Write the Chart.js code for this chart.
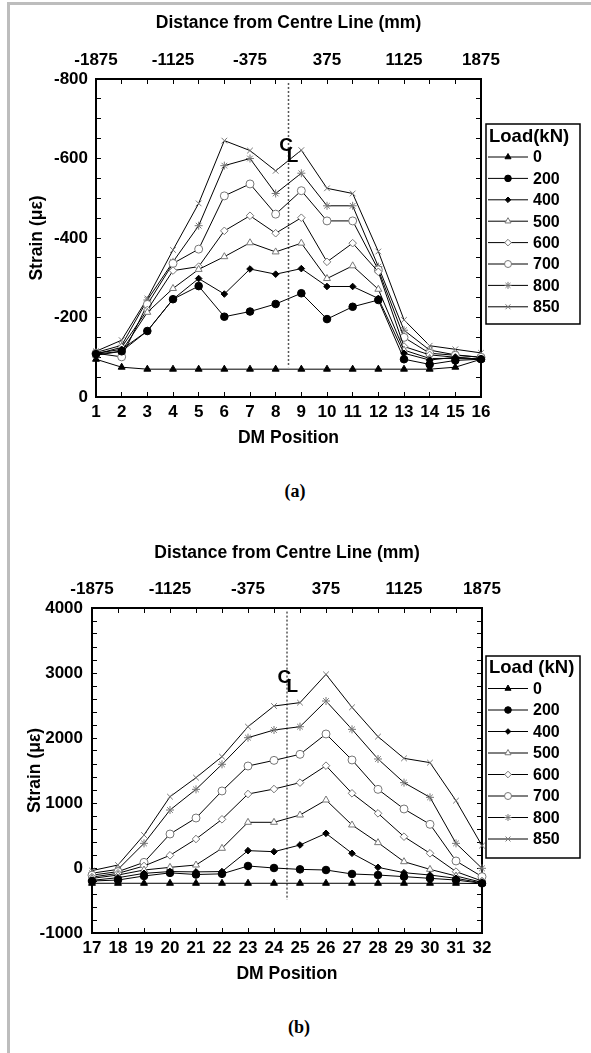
<!DOCTYPE html>
<html>
<head>
<meta charset="utf-8">
<script src="https://cdn.jsdelivr.net/npm/chart.js@4.4.1/dist/chart.umd.min.js"></script>
<style>
  html, body { margin: 0; padding: 0; background: #fff; }
  body { width: 591px; height: 1053px; position: relative; overflow: hidden; }
  #frame { position: absolute; left: 7px; top: 2px; width: 700px; height: 1200px;
           border-left: 3px solid #bdbdbd; border-top: 3px solid #bdbdbd; }
  canvas { position: absolute; left: 0; }
  #chartA { top: 0; }
  #chartB { top: 530px; }
  .caption { position: absolute; width: 60px; text-align: center;
             font: bold 18px "Liberation Serif", "Times New Roman", serif; }
</style>
</head>
<body>
<div id="frame"></div>
<canvas id="chartA" width="591" height="470"></canvas>
<canvas id="chartB" width="591" height="470"></canvas>
<div class="caption" style="left:265px;top:481px">(a)</div>
<div class="caption" style="left:269px;top:1017px">(b)</div>

<script>
const FONT = '"Liberation Sans", Arial, Helvetica, sans-serif';

// loads (kN), one series per load
const loadsKN = ['0', '200', '400', '500', '600', '700', '800', '850'];

// (a) DM positions 1-16, strain in micro-strain
const dmPositionsA = [1, 2, 3, 4, 5, 6, 7, 8, 9, 10, 11, 12, 13, 14, 15, 16];
const strain0A   = [-95, -75, -70, -70, -70, -70, -70, -70, -70, -70, -70, -70, -70, -70, -75, -95];
const strain200A = [-108, -115, -166, -246, -279, -202, -215, -234, -261, -196, -227, -244, -95, -82, -92, -95];
const strain400A = [-110, -120, -166, -246, -298, -259, -322, -309, -323, -278, -278, -248, -110, -93, -100, -95];
const strain500A = [-105, -115, -213, -273, -321, -353, -388, -365, -387, -298, -330, -271, -118, -97, -97, -95];
const strain600A = [-108, -125, -219, -318, -328, -418, -456, -412, -451, -340, -387, -315, -127, -106, -100, -95];
const strain700A = [-110, -101, -233, -336, -372, -506, -536, -460, -519, -443, -443, -320, -150, -110, -105, -100];
const strain800A = [-112, -130, -244, -340, -431, -582, -600, -512, -563, -481, -481, -328, -168, -118, -106, -100];
const strain850A = [-115, -143, -248, -370, -487, -645, -620, -569, -621, -525, -512, -366, -194, -129, -120, -111];

// (b) DM positions 17-32
const dmPositionsB = [17, 18, 19, 20, 21, 22, 23, 24, 25, 26, 27, 28, 29, 30, 31, 32];
const strain0B   = [-235, -235, -235, -235, -235, -235, -235, -235, -235, -235, -235, -235, -235, -235, -235, -240];
const strain200B = [-200, -185, -123, -75, -100, -90, 31, 0, -21, -31, -92, -108, -133, -159, -185, -236];
const strain400B = [-190, -149, -82, -55, -60, -55, 267, 251, 354, 533, 226, 10, -72, -108, -159, -230];
const strain500B = [-160, -108, -31, 10, 46, 303, 703, 703, 815, 1046, 662, 390, 97, -21, -123, -220];
const strain600B = [-140, -82, 31, 195, 446, 749, 1138, 1215, 1313, 1574, 1149, 841, 482, 226, -56, -200];
const strain700B = [-110, -56, 87, 523, 769, 1185, 1569, 1656, 1749, 2062, 1662, 1210, 908, 672, 108, -133];
const strain800B = [-80, -21, 379, 892, 1210, 1595, 2005, 2123, 2174, 2569, 2133, 1677, 1313, 1087, 379, -5];
const strain850B = [-40, 46, 508, 1097, 1390, 1713, 2174, 2492, 2544, 2979, 2472, 2021, 1687, 1621, 1036, 344];

// axis ticks
const distanceLabels = [-1875, -1125, -375, 375, 1125, 1875];
const distanceStep = 250;
const strainLabelsA = [-800, -600, -400, -200, 0];
const strainStepA = 50;
const strainLabelsB = [-1000, 0, 1000, 2000, 3000, 4000];
const strainStepB = 200;

// centre line extent (strain units) and CL symbol level
const centreLineA = [-790, -75];
const centreLineB = [3945, -490];
const clLevelA = -619;
const clLevelB = 2862;

const markerStyles = [
  { pointStyle: 'triangle', radius: 4,   fill: '#000', stroke: '#000' },
  { pointStyle: 'circle',   radius: 3.8, fill: '#000', stroke: '#000' },
  { pointStyle: 'rectRot',  radius: 3.3, fill: '#000', stroke: '#000' },
  { pointStyle: 'triangle', radius: 4,   fill: '#fff', stroke: '#777' },
  { pointStyle: 'rectRot',  radius: 3.8, fill: '#fff', stroke: '#777' },
  { pointStyle: 'circle',   radius: 4,   fill: '#fff', stroke: '#777' },
  { pointStyle: 'star',     radius: 4,   fill: '#fff', stroke: '#777' },
  { pointStyle: 'crossRot', radius: 4,   fill: '#fff', stroke: '#777' },
];

function steps(from, to, step) {
  const out = [];
  for (let v = from; v <= to + 1e-9; v += step) out.push({ value: v });
  return out;
}

const font = (size) => ({ family: FONT, size, weight: 'bold' });

// legend box drawn beside the plot area
const loadLegend = {
  id: 'loadLegend',
  afterDraw(chart, args, opts) {
    const { ctx, chartArea } = chart;
    const left = chartArea.right + opts.gap;
    const top = chartArea.top + opts.offsetTop;
    ctx.save();
    ctx.strokeStyle = '#000';
    ctx.lineWidth = 1.5;
    ctx.strokeRect(left, top, opts.width, opts.height);
    ctx.fillStyle = '#000';
    ctx.textAlign = 'left';
    ctx.textBaseline = 'middle';
    ctx.font = `bold ${opts.titleSize}px ${FONT}`;
    ctx.fillText(opts.title, left + 3, top + opts.titleY);
    ctx.font = `bold 16px ${FONT}`;
    loadsKN.forEach((load, i) => {
      const y = top + opts.firstY + i * opts.rowH;
      const m = markerStyles[i];
      ctx.strokeStyle = '#000';
      ctx.lineWidth = 1;
      ctx.beginPath();
      ctx.moveTo(left + 2, y);
      ctx.lineTo(left + 42, y);
      ctx.stroke();
      if (Chart.helpers && Chart.helpers.drawPoint) {
        ctx.fillStyle = m.fill;
        ctx.strokeStyle = m.stroke;
        Chart.helpers.drawPoint(ctx, { pointStyle: m.pointStyle, radius: m.radius - 0.5, rotation: 0, borderWidth: 1 }, left + 22, y);
      }
      ctx.fillStyle = '#000';
      ctx.fillText(load, left + 47, y + 1);
    });
    ctx.restore();
  }
};

// centre-line symbol (C with subscript L)
const centreLineMark = {
  id: 'centreLineMark',
  afterDatasetsDraw(chart, args, opts) {
    const { ctx } = chart;
    const x = chart.scales.xTop.getPixelForValue(0);
    const y = chart.scales.y.getPixelForValue(opts.level);
    ctx.save();
    ctx.fillStyle = '#000';
    ctx.textAlign = 'center';
    ctx.textBaseline = 'middle';
    ctx.font = `bold 19px ${FONT}`;
    ctx.fillText('C', x + opts.cx, y - opts.dy);
    ctx.fillText('L', x + opts.lx, y + opts.dy);
    ctx.restore();
  }
};

function makeChart(id, cfg) {
  const datasets = cfg.series.map((vals, i) => {
    const m = markerStyles[i];
    return {
      label: loadsKN[i],
      data: cfg.positions.map((p, j) => ({ x: p, y: vals[j] })),
      borderColor: '#000',
      borderWidth: 1,
      pointStyle: m.pointStyle,
      pointRadius: m.radius,
      pointBackgroundColor: m.fill,
      pointBorderColor: m.stroke,
      pointBorderWidth: 1,
      clip: false,
    };
  });
  datasets.push({
    label: 'CL',
    xAxisID: 'xTop',
    data: cfg.centreLine.map(v => ({ x: 0, y: v })),
    borderColor: '#555',
    borderWidth: 1.5,
    borderDash: [2, 2],
    pointRadius: 0,
  });

  const yTicks = steps(cfg.yMin, cfg.yMax, cfg.yStep);
  const yLabel = (v) => cfg.yLabels.includes(v) ? String(v) : '';
  const grid = { drawOnChartArea: false, tickLength: -5, color: '#000', tickColor: '#000', lineWidth: 1 };
  const border = { color: '#000', width: 2 };

  return new Chart(document.getElementById(id), {
    type: 'line',
    data: { datasets },
    options: {
      responsive: false,
      animation: false,
      events: [],
      devicePixelRatio: 1,
      layout: { padding: { left: 0, right: cfg.rightPad, top: 0, bottom: 0 } },
      plugins: {
        legend: { display: false },
        tooltip: { enabled: false },
        loadLegend: cfg.legend,
        centreLineMark: cfg.clMark,
      },
      scales: {
        x: {
          type: 'linear', position: 'bottom',
          min: cfg.positions[0], max: cfg.positions[cfg.positions.length - 1],
          afterBuildTicks: s => { s.ticks = cfg.positions.map(v => ({ value: v })); },
          afterFit: s => { s.height = cfg.bottomH; },
          ticks: { autoSkip: false, maxRotation: 0, padding: 10, color: '#000', font: font(17), callback: v => String(v) },
          grid, border,
          title: { display: true, text: 'DM Position', color: '#000', font: font(17.5), padding: { top: 0, bottom: cfg.xTitlePad } },
        },
        xTop: {
          type: 'linear', position: 'top',
          min: distanceLabels[0], max: distanceLabels[distanceLabels.length - 1],
          afterBuildTicks: s => { s.ticks = steps(distanceLabels[0], distanceLabels[distanceLabels.length - 1], distanceStep); },
          afterFit: s => { s.height = cfg.topH; },
          ticks: { autoSkip: false, maxRotation: 0, padding: 13, color: '#000', font: font(17),
                   callback: v => distanceLabels.includes(v) ? String(v) : '' },
          grid, border,
          title: { display: true, text: 'Distance from Centre Line (mm)', color: '#000', font: font(17.5), padding: { top: 12.5, bottom: 0 } },
        },
        y: {
          type: 'linear', position: 'left',
          min: cfg.yMin, max: cfg.yMax, reverse: cfg.reverse,
          afterBuildTicks: s => { s.ticks = yTicks.map(t => ({ value: t.value })); },
          afterFit: s => { s.width = cfg.leftW; },
          ticks: { autoSkip: false, padding: cfg.yTickPad, color: '#000', font: font(17), callback: yLabel },
          grid, border,
          title: { display: true, text: 'Strain (με)', color: '#000', font: font(17.5), padding: { top: cfg.yTitlePad, bottom: 0 } },
        },
        yRight: {
          type: 'linear', position: 'right',
          min: cfg.yMin, max: cfg.yMax, reverse: cfg.reverse,
          afterBuildTicks: s => { s.ticks = yTicks.map(t => ({ value: t.value })); },
          afterFit: s => { s.width = 0; },
          ticks: { display: false },
          grid, border,
        },
      },
    },
    plugins: [loadLegend, centreLineMark],
  });
}

makeChart('chartA', {
  positions: dmPositionsA,
  series: [strain0A, strain200A, strain400A, strain500A, strain600A, strain700A, strain800A, strain850A],
  centreLine: centreLineA,
  yMin: -800, yMax: 0, yStep: strainStepA, yLabels: strainLabelsA, reverse: true,
  leftW: 96, rightPad: 110, topH: 79, bottomH: 73,
  yTickPad: 13, yTitlePad: 26.5, xTitlePad: 21.5,
  legend: { gap: 5, offsetTop: 45, width: 94, height: 200, title: 'Load(kN)', titleSize: 18.5, titleY: 13, firstY: 33, rowH: 21.4 },
  clMark: { level: clLevelA, cx: -2.5, lx: 4, dy: 5.5 },
});

makeChart('chartB', {
  positions: dmPositionsB,
  series: [strain0B, strain200B, strain400B, strain500B, strain600B, strain700B, strain800B, strain850B],
  centreLine: centreLineB,
  yMin: -1000, yMax: 4000, yStep: strainStepB, yLabels: strainLabelsB, reverse: false,
  leftW: 92, rightPad: 109, topH: 78, bottomH: 67,
  yTickPad: 14, yTitlePad: 24.5, xTitlePad: 15.5,
  legend: { gap: 4, offsetTop: 48, width: 94, height: 202, title: 'Load (kN)', titleSize: 18.5, titleY: 12, firstY: 32.5, rowH: 21.5 },
  clMark: { level: clLevelB, cx: -2.7, lx: 5.3, dy: 4.5 },
});
</script>
</body>
</html>
